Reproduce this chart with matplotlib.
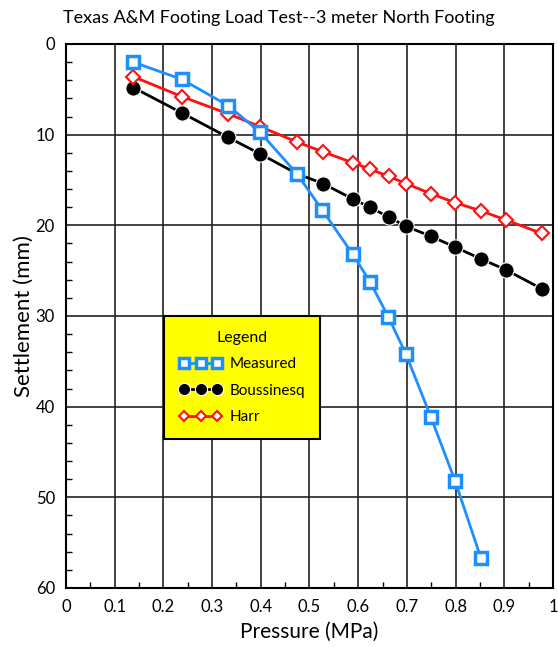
import numpy as np
import matplotlib.pyplot as plt
from matplotlib.ticker import MultipleLocator

plt.rcParams['font.family'] = ['Lato', 'DejaVu Sans']

# data
p_meas = [0.138, 0.238, 0.333, 0.398, 0.474, 0.526, 0.589, 0.624, 0.662, 0.698, 0.749, 0.799, 0.852]
s_meas = [2.0, 3.9, 6.8, 9.7, 14.3, 18.3, 23.2, 26.2, 30.1, 34.2, 41.1, 48.2, 56.7]

p_bous = [0.138, 0.238, 0.333, 0.398, 0.474, 0.528, 0.589, 0.624, 0.663, 0.698, 0.749, 0.799, 0.852, 0.903, 0.977]
s_bous = [4.8, 7.6, 10.3, 12.1, 14.3, 15.4, 17.1, 18.0, 19.1, 20.1, 21.2, 22.4, 23.7, 24.9, 27.0]

p_harr = [0.138, 0.238, 0.333, 0.398, 0.474, 0.528, 0.589, 0.624, 0.663, 0.698, 0.749, 0.799, 0.852, 0.903, 0.977]
s_harr = [3.6, 5.8, 7.7, 9.1, 10.8, 11.9, 13.1, 13.8, 14.6, 15.4, 16.5, 17.5, 18.4, 19.4, 20.9]

fig = plt.figure(figsize=(5.58, 6.47), dpi=100)
ax = fig.add_axes([0.1183, 0.0912, 0.8727, 0.8408])

ax.plot(p_meas, s_meas, color='#1e8fff', lw=2, marker='s', ms=9, mfc='white',
        mec='#1e8fff', mew=2.5, label='Measured', zorder=4)
ax.plot(p_bous, s_bous, color='black', lw=2, marker='o', ms=11, mfc='black',
        mec='white', mew=0.8, label='Boussinesq', zorder=3)
ax.plot(p_harr, s_harr, color='#ff1010', lw=2, marker='D', ms=7, mfc='white',
        mec='#ff1010', mew=1.5, label='Harr', zorder=3)

ax.set_xlim(0, 1)
ax.set_ylim(60, 0)
ax.xaxis.set_major_locator(MultipleLocator(0.1))
ax.xaxis.set_minor_locator(MultipleLocator(0.05))
ax.yaxis.set_major_locator(MultipleLocator(10))
ax.yaxis.set_minor_locator(MultipleLocator(2))
ax.set_xticks(np.arange(0, 1.01, 0.1))
ax.set_xticklabels(['0', '0.1', '0.2', '0.3', '0.4', '0.5', '0.6', '0.7', '0.8', '0.9', '1'])
ax.grid(True, which='major', color='#222222', lw=1.2)
ax.tick_params(which='major', length=0, labelsize=12, pad=8)
ax.tick_params(which='minor', direction='in', length=4, width=1)
for s in ax.spines.values():
    s.set_linewidth(1.5)

ax.set_xlabel('Pressure (MPa)', fontsize=15, labelpad=5)
ax.set_ylabel('Settlement (mm)', fontsize=16, labelpad=1.5)
fig.text(0.5, 0.972, 'Texas A&M Footing Load Test--3 meter North Footing',
         fontsize=13, ha='center', va='center')

leg = ax.legend(loc='upper left', bbox_to_anchor=(0.201, 0.5), numpoints=3,
                title='Legend', fontsize=11, title_fontsize=11.5, frameon=True,
                fancybox=False, facecolor='yellow', edgecolor='black', framealpha=1,
                borderpad=1.0, labelspacing=0.8, handlelength=2.8, handletextpad=0.5,
                borderaxespad=0, markerscale=0.8)
leg.get_frame().set_linewidth(1.5)

fig.savefig('out.png', dpi=100)
